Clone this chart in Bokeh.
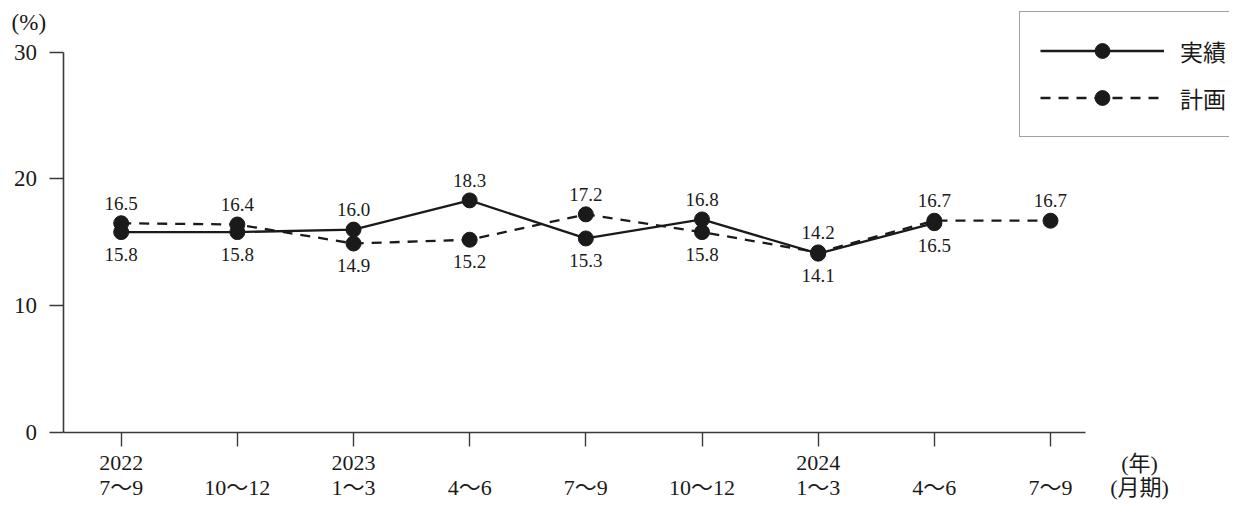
from bokeh.plotting import figure
from bokeh.models import (FixedTicker, Legend, LegendItem, Label,
                          ColumnDataSource, Range1d)
from bokeh.core.properties import value
from bokeh.embed import file_html
from bokeh.resources import INLINE

# ---- data ----
periods = ["7〜9", "10〜12", "1〜3", "4〜6", "7〜9", "10〜12", "1〜3", "4〜6", "7〜9"]
years = ["2022", "", "2023", "", "", "", "2024", "", ""]
actual = [15.8, 15.8, 16.0, 18.3, 15.3, 16.8, 14.1, 16.5]          # 実績
plan = [16.5, 16.4, 14.9, 15.2, 17.2, 15.8, 14.2, 16.7, 16.7]      # 計画
y_ticks = [0, 10, 20, 30]
series_names = ["実績", "計画"]
y_unit = "(%)"
x_unit_year = "(年)"
x_unit_period = "(月期)"

NUM_FONT = "Liberation Serif, Noto Sans CJK JP"
JP_FONT = "Noto Sans CJK JP"
INK = "#1a1a1a"
AXIS = "#3a3a3a"

W, H = 1229, 503
# frame covers the whole canvas; axes are pinned inside with fixed_location
p = figure(width=W, height=H,
           x_range=Range1d(-1.039, 9.541), y_range=Range1d(-5.598, 34.061),
           output_backend="svg", toolbar_location=None,
           min_border=0, min_border_left=0, min_border_right=0,
           min_border_top=0, min_border_bottom=0)
p.outline_line_color = None
p.grid.visible = False
p.background_fill_color = "white"
p.border_fill_color = "white"

# x axis
p.xaxis.fixed_location = 0
p.xaxis.bounds = (-0.5, 8.3)
p.xaxis.ticker = FixedTicker(ticks=list(range(len(periods))))
p.xaxis.major_label_overrides = {
    i: f"{(years[i] or ' ')}\n{periods[i]}" for i in range(len(periods))
}
p.xaxis.major_tick_in = 0
p.xaxis.major_tick_out = 14
p.xaxis.minor_tick_line_color = None
p.xaxis.major_label_standoff = 4
p.xaxis.major_label_text_font = NUM_FONT
p.xaxis.major_label_text_font_size = "22px"
p.xaxis.major_label_text_line_height = 1.0
p.xaxis.major_label_text_color = INK
p.xaxis.axis_line_color = AXIS
p.xaxis.axis_line_width = 1.6
p.xaxis.major_tick_line_color = AXIS
p.xaxis.major_tick_line_width = 1.4

# y axis
p.yaxis.fixed_location = -0.5
p.yaxis.bounds = (0, 30)
p.yaxis.ticker = FixedTicker(ticks=y_ticks)
p.yaxis.major_tick_in = 0
p.yaxis.major_tick_out = 14
p.yaxis.minor_tick_line_color = None
p.yaxis.major_label_standoff = 12
p.yaxis.major_label_text_font = NUM_FONT
p.yaxis.major_label_text_font_size = "23px"
p.yaxis.major_label_text_color = INK
p.yaxis.axis_line_color = AXIS
p.yaxis.axis_line_width = 1.6
p.yaxis.major_tick_line_color = AXIS
p.yaxis.major_tick_line_width = 1.4


def offsets(vals, other):
    out = []
    for i, v in enumerate(vals):
        above = i >= len(other) or v > other[i]
        out.append(-20 if above else 22)
    return out


src_a = ColumnDataSource(dict(x=list(range(len(actual))), y=actual,
                              t=[f"{v:.1f}" for v in actual],
                              off=offsets(actual, plan)))
src_p = ColumnDataSource(dict(x=list(range(len(plan))), y=plan,
                              t=[f"{v:.1f}" for v in plan],
                              off=offsets(plan, actual)))

r_p_line = p.line("x", "y", source=src_p, line_color=INK, line_width=2.3,
                  line_dash="10 8")
r_a_line = p.line("x", "y", source=src_a, line_color=INK, line_width=2.3)
r_p_pts = p.scatter("x", "y", source=src_p, size=15, fill_color=INK,
                    line_color=INK)
r_a_pts = p.scatter("x", "y", source=src_a, size=15, fill_color=INK,
                    line_color=INK)

for src in (src_a, src_p):
    p.text("x", "y", text="t", source=src, y_offset="off",
           text_align="center", text_baseline="middle",
           text_font=value(NUM_FONT), text_font_size="19px", text_color=INK)

legend = Legend(items=[LegendItem(label=series_names[0], renderers=[r_a_line, r_a_pts]),
                       LegendItem(label=series_names[1], renderers=[r_p_line, r_p_pts])],
                location=(1019, 366), glyph_width=124, glyph_height=37,
                spacing=10, padding=20, margin=0, label_standoff=16,
                label_width=90,
                label_text_font=JP_FONT, label_text_font_size="23px",
                label_text_color=INK,
                border_line_color="#444444", border_line_width=1.5,
                background_fill_color="white", background_fill_alpha=1.0)
p.add_layout(legend)

p.add_layout(Label(x=-0.795, y=32.35, text=y_unit, text_align="center",
                   text_baseline="middle", text_font=NUM_FONT,
                   text_font_size="23px", text_color=INK))
p.add_layout(Label(x=8.766, y=-2.45, text=x_unit_year, text_align="center",
                   text_baseline="middle", text_font=NUM_FONT,
                   text_font_size="22px", text_color=INK))
p.add_layout(Label(x=8.766, y=-4.35, text=x_unit_period, text_align="center",
                   text_baseline="middle", text_font=NUM_FONT,
                   text_font_size="22px", text_color=INK))

open("out.html", "w").write(file_html(p, INLINE))
